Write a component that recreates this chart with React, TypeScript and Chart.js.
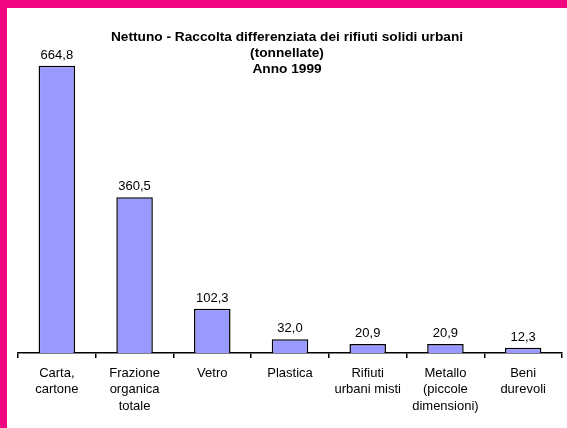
import React, { useEffect, useRef } from "react";
import { Chart, registerables } from "chart.js";

Chart.register(...registerables);

const categories: string[][] = [
  ["Carta,", "cartone"],
  ["Frazione", "organica", "totale"],
  ["Vetro"],
  ["Plastica"],
  ["Rifiuti", "urbani misti"],
  ["Metallo", "(piccole", "dimensioni)"],
  ["Beni", "durevoli"],
];
const values: number[] = [664.8, 360.5, 102.3, 32.0, 20.9, 20.9, 12.3];
const titleLines: string[] = [
  "Nettuno - Raccolta differenziata dei rifiuti solidi urbani",
  "(tonnellate)",
  "Anno 1999",
];

const FONT = "'Liberation Sans', Arial, sans-serif";

const fmt = (v: number) => v.toFixed(1).replace(".", ",");

const labelPlugin = {
  id: "valueLabels",
  afterDatasetsDraw(chart: any) {
    const ctx = chart.ctx;
    const meta = chart.getDatasetMeta(0);
    ctx.save();
    ctx.font = `13px ${FONT}`;
    ctx.fillStyle = "#000";
    ctx.textAlign = "center";
    ctx.textBaseline = "bottom";
    meta.data.forEach((el: any, i: number) => {
      ctx.fillText(fmt(values[i]), el.x, el.y - 4);
    });
    ctx.restore();
  },
};

const titlePlugin = {
  id: "titleLines",
  afterDraw(chart: any) {
    const ctx = chart.ctx;
    ctx.save();
    ctx.font = `bold 13.7px ${FONT}`;
    ctx.fillStyle = "#000";
    ctx.textAlign = "center";
    ctx.textBaseline = "middle";
    titleLines.forEach((t, i) => {
      ctx.fillText(t, 280, 29 + i * 16);
    });
    ctx.restore();
  },
};

export default function App() {
  const ref = useRef<HTMLCanvasElement>(null);
  useEffect(() => {
    if (!ref.current) return;
    const chart = new Chart(ref.current, {
      type: "bar",
      data: {
        labels: categories,
        datasets: [
          {
            data: values,
            backgroundColor: "#9999FF",
            borderColor: "#000000",
            borderWidth: 1.5,
            barPercentage: 0.47,
            categoryPercentage: 1,
          },
        ],
      },
      options: {
        animation: false,
        responsive: false,
        maintainAspectRatio: false,
        layout: { padding: { left: 11, right: 5, top: 21, bottom: 0 } },
        plugins: {
          legend: { display: false },
          title: { display: false },
          tooltip: { enabled: false },
        },
        scales: {
          x: {
            offset: true,
            afterFit: (scale: any) => {
              scale.height = 75;
            },
            grid: {
              display: true,
              offset: true,
              drawOnChartArea: false,
              drawTicks: true,
              tickLength: 5,
              color: "#000",
              lineWidth: 1.5,
            },
            border: { display: true, color: "#000", width: 1.5 },
            ticks: {
              color: "#000",
              font: { family: FONT, size: 13, lineHeight: 1.27 },
              padding: 7,
              maxRotation: 0,
              autoSkip: false,
            },
          },
          y: {
            display: false,
            min: 0,
            max: 750,
          },
        },
      },
      plugins: [labelPlugin, titlePlugin],
    });
    return () => chart.destroy();
  }, []);
  return (
    <div
      style={{
        position: "fixed",
        left: 0,
        top: 0,
        width: 567,
        height: 428,
        boxSizing: "border-box",
        background: "#fff",
        borderTop: "8px solid #F0067F",
        borderLeft: "7px solid #F0067F",
      }}
    >
      <canvas ref={ref} width={560} height={420} style={{ display: "block" }} />
    </div>
  );
}
